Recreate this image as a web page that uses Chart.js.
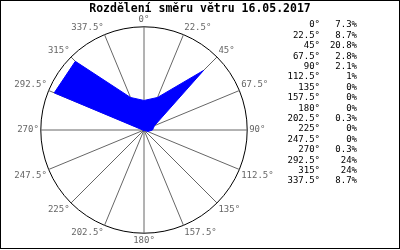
<!DOCTYPE html>
<html>
<head>
<meta charset="utf-8">
<script src="https://cdn.jsdelivr.net/npm/chart.js@4/dist/chart.umd.min.js"></script>
<style>
  html, body { margin: 0; padding: 0; background: #fff; }
  #wrap { position: relative; width: 400px; height: 250px; }
</style>
</head>
<body>
<div id="wrap"><canvas id="windChart" width="400" height="250"></canvas></div>
<script>
var chartTitle = 'Rozdělení směru větru 16.05.2017';
var directions = ['0°', '22.5°', '45°', '67.5°', '90°', '112.5°', '135°', '157.5°',
                  '180°', '202.5°', '225°', '247.5°', '270°', '292.5°', '315°', '337.5°'];
var percents = [7.3, 8.7, 20.8, 2.8, 2.1, 1, 0, 0, 0, 0.3, 0, 0, 0.3, 24, 24, 8.7];
var radialMax = 25.5;

var textPlugin = {
    id: 'windText',
    afterDraw: function (chart) {
        var ctx = chart.ctx;
        ctx.save();
        ctx.fillStyle = '#000';
        ctx.font = 'bold 11.5px "DejaVu Sans Mono"';
        ctx.textAlign = 'center';
        ctx.textBaseline = 'middle';
        ctx.fillText(chartTitle, 200, 9);

        // table of values on the right
        ctx.font = '9px "DejaVu Sans Mono"';
        ctx.textAlign = 'right';
        for (var i = 0; i < directions.length; i++) {
            var y = 25 + i * 10.4;
            ctx.fillText(directions[i], 320, y);
            ctx.fillText(percents[i] + '%', 357, y);
        }

        ctx.strokeStyle = '#000';
        ctx.lineWidth = 1;
        ctx.strokeRect(0.5, 0.5, 399, 248);
        ctx.restore();
    }
};

var ctx = document.getElementById('windChart').getContext('2d');
new Chart(ctx, {
    type: 'radar',
    data: {
        labels: directions,
        datasets: [{
            data: percents,
            backgroundColor: '#0000ff',
            borderColor: '#0000ff',
            borderWidth: 1,
            fill: true,
            pointRadius: 0,
            tension: 0
        }]
    },
    options: {
        responsive: false,
        animation: false,
        layout: { padding: { left: 0, right: 112, top: 15, bottom: 3 } },
        plugins: {
            legend: { display: false },
            tooltip: { enabled: false },
            title: { display: false }
        },
        scales: {
            r: {
                min: 0,
                max: radialMax,
                ticks: { display: false, stepSize: radialMax },
                grid: { color: '#000', lineWidth: 1, circular: true },
                angleLines: { color: '#666', lineWidth: 1 },
                pointLabels: {
                    color: '#666',
                    font: { family: 'DejaVu Sans Mono', size: 9 },
                    padding: 2
                }
            }
        }
    },
    plugins: [textPlugin]
});
</script>
</body>
</html>
